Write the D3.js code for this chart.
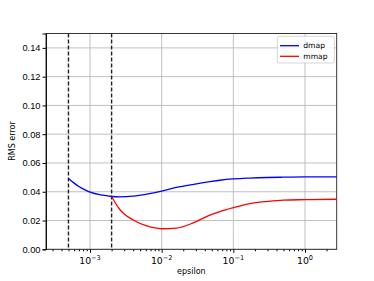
<!DOCTYPE html>
<html>
<head>
<meta charset="utf-8">
<script src="https://cdn.jsdelivr.net/npm/d3@7"></script>
<style>
  body { margin: 0; background: #fff; }
  svg { font-family: "DejaVu Sans", sans-serif; display: block; }
</style>
</head>
<body>
<div id="chart"></div>
<script>
// epsilon values and RMS errors
const dmapEps = [5e-4, 6e-4, 7e-4, 8e-4, 1e-3, 1.5e-3, 2e-3, 2.6e-3, 4e-3, 6.2e-3, 1e-2, 1.6e-2, 2.8e-2, 4.7e-2, 6.5e-2, 0.1, 0.17, 0.3, 0.5, 1, 2.77];
const dmapErr = [0.0493, 0.0460, 0.0436, 0.0420, 0.0397, 0.0376, 0.0367, 0.0365, 0.0370, 0.0384, 0.0405, 0.0430, 0.0452, 0.0470, 0.0480, 0.0489, 0.0495, 0.0499, 0.0501, 0.0503, 0.0504];

const mmapEps = [2e-3, 2.62e-3, 3e-3, 4e-3, 6.2e-3, 1e-2, 1.6e-2, 2.8e-2, 4.7e-2, 6.5e-2, 0.1, 0.17, 0.3, 0.5, 1, 2.77];
const mmapErr = [0.0367, 0.0275, 0.0245, 0.0204, 0.0162, 0.0143, 0.0147, 0.0185, 0.0238, 0.0262, 0.0289, 0.0318, 0.0333, 0.0342, 0.0345, 0.0348];

const cutoffs = [5e-4, 2e-3];
const yTicks = [0, 0.02, 0.04, 0.06, 0.08, 0.10, 0.12, 0.14];
const xTicks = [1e-3, 1e-2, 1e-1, 1];

const series = [
  { name: "dmap", color: "#0000ff", eps: dmapEps, err: dmapErr },
  { name: "mmap", color: "#ff0000", eps: mmapEps, err: mmapErr },
];

const W = 374, H = 281;
const margin = { top: 33.5, right: 37.3, bottom: 31.7, left: 46 };
const width = W - margin.left - margin.right;
const height = H - margin.top - margin.bottom;

const svg = d3.select("#chart").append("svg")
  .attr("width", W)
  .attr("height", H)
  .append("g")
  .attr("transform", `translate(${margin.left},${margin.top})`);

const x = d3.scaleLog().domain([2.43e-4, 2.77]).range([0, width]);
const y = d3.scaleLinear().domain([0, 0.15]).range([height, 0]);

// grid
svg.append("g").selectAll("line").data(yTicks).enter().append("line")
  .attr("x1", 0).attr("x2", width)
  .attr("y1", d => y(d)).attr("y2", d => y(d))
  .style("stroke", "#b0b0b0").style("stroke-width", 0.8);
svg.append("g").selectAll("line").data(xTicks).enter().append("line")
  .attr("x1", d => x(d)).attr("x2", d => x(d))
  .attr("y1", 0).attr("y2", height)
  .style("stroke", "#b0b0b0").style("stroke-width", 0.8);

// axes
const yAxis = svg.append("g")
  .call(d3.axisLeft(y).tickValues(yTicks).tickFormat(d3.format(".2f")).tickSize(3.5).tickPadding(2));
yAxis.selectAll("text").style("font-size", "9.3px").style("fill", "#000");

const minor = [];
for (let e = -4; e <= 0; e++) {
  for (let k = 2; k <= 9; k++) {
    const v = k * Math.pow(10, e);
    if (v >= x.domain()[0] && v <= x.domain()[1]) minor.push(v);
  }
}
const xMinor = svg.append("g").attr("transform", `translate(0,${height})`)
  .call(d3.axisBottom(x).tickValues(minor).tickFormat("").tickSize(2));
xMinor.select(".domain").remove();

const xAxis = svg.append("g").attr("transform", `translate(0,${height})`)
  .call(d3.axisBottom(x).tickValues(xTicks).tickFormat("").tickSize(3.5));
xAxis.select(".domain").remove();

const xLabels = svg.append("g").selectAll("text").data(xTicks).enter().append("text")
  .attr("x", d => x(d))
  .attr("y", height + 14.5)
  .attr("text-anchor", "middle")
  .style("font-size", "9.3px");
xLabels.append("tspan").text("10");
xLabels.append("tspan")
  .attr("dy", -4)
  .style("font-size", "6.6px")
  .text(d => { const p = Math.round(Math.log10(d)); return p < 0 ? "\u2212" + (-p) : String(p); });

// frame
svg.append("rect")
  .attr("width", width).attr("height", height)
  .style("fill", "none").style("stroke", "#222").style("stroke-width", 0.9);

// vertical dashed lines
svg.append("g").selectAll("line").data(cutoffs).enter().append("line")
  .attr("x1", d => x(d)).attr("x2", d => x(d))
  .attr("y1", 0).attr("y2", height)
  .style("stroke", "#222").style("stroke-width", 1.4)
  .style("stroke-dasharray", "4,2");

// curves
const line = d3.line().x(d => x(d[0])).y(d => y(d[1])).curve(d3.curveMonotoneX);
series.forEach(s => {
  svg.append("path")
    .datum(d3.zip(s.eps, s.err))
    .attr("d", line)
    .style("fill", "none")
    .style("stroke", s.color)
    .style("stroke-width", 1.3);
});

// axis labels
svg.append("text")
  .attr("x", width / 2)
  .attr("y", height + 25)
  .attr("text-anchor", "middle")
  .style("font-size", "8px")
  .text("epsilon");

svg.append("text")
  .attr("transform", "rotate(-90)")
  .attr("x", -(141 - margin.top))
  .attr("y", -margin.left + 15)
  .attr("text-anchor", "middle")
  .style("font-size", "8px")
  .text("RMS error");

// legend
const legend = svg.append("g").attr("transform", `translate(${277.3 - margin.left},${36.3 - margin.top})`);
legend.append("rect")
  .attr("width", 57).attr("height", 26.7)
  .attr("rx", 2)
  .style("fill", "#fff").style("fill-opacity", 0.8)
  .style("stroke", "#ccc").style("stroke-width", 0.8);
series.forEach((s, i) => {
  const row = legend.append("g").attr("transform", `translate(0,${9.4 + i * 10.6})`);
  row.append("line")
    .attr("x1", 2.7).attr("x2", 21.7)
    .style("stroke", s.color).style("stroke-width", 1.3);
  row.append("text")
    .attr("x", 26)
    .attr("dy", "0.35em")
    .style("font-size", "7.6px")
    .text(s.name);
});
</script>
</body>
</html>
